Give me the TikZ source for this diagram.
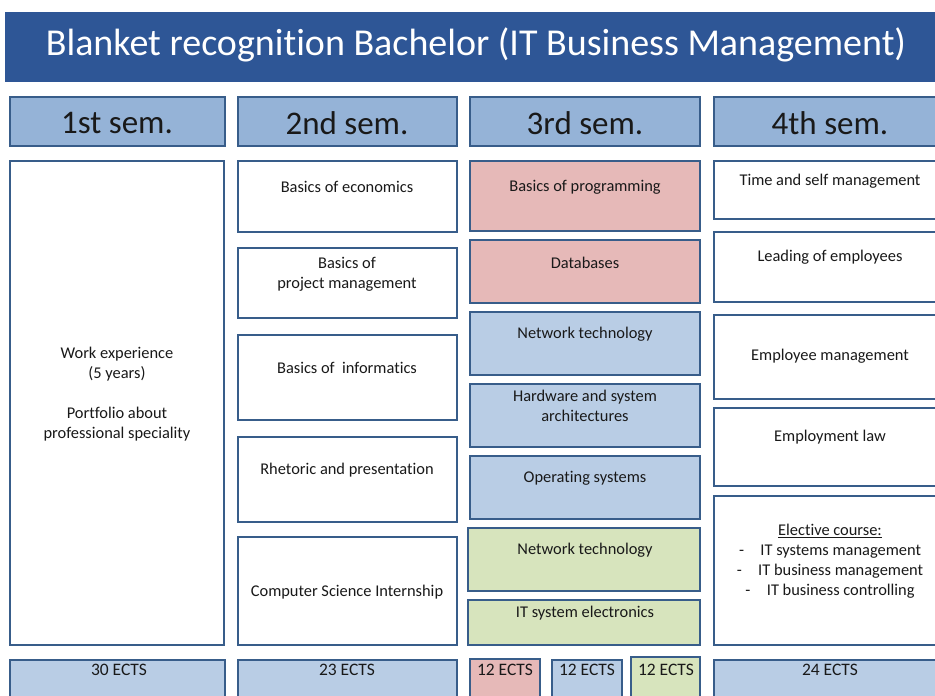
\documentclass[tikz,border=0pt]{standalone}
\usepackage{fontspec}
\setmainfont{Carlito}[Ligatures=NoCommon]
\usetikzlibrary{fit}
\definecolor{banner}{RGB}{46,86,150}
\definecolor{hdr}{RGB}{149,179,215}
\definecolor{edge}{RGB}{56,93,138}
\definecolor{redf}{RGB}{230,185,184}
\definecolor{bluef}{RGB}{185,205,229}
\definecolor{greenf}{RGB}{215,228,189}
\definecolor{ink}{RGB}{25,25,25}
\tikzset{
  box/.style={draw=edge, line width=1.8pt, inner sep=0pt, rectangle},
  txt/.style={text=ink, font=\fontsize{16.4}{20}\selectfont, align=center, inner sep=0pt},
  semtxt/.style={text=ink, font=\fontsize{33}{36}\selectfont, inner sep=0pt},
  ects/.style={text=ink, font=\fontsize{17.5}{20}\selectfont, inner sep=0pt},
}
\begin{document}
\begin{tikzpicture}[x=1pt,y=-1pt]
\clip (0,0) rectangle (935,696);
\useasboundingbox (0,0) rectangle (935,696);
\fill[white] (0,0) rectangle (935,696);
% title banner
\node[fill=banner, inner sep=0pt, fit={(5,12) (945,82)}] (title) {};
\node[text=white, font=\fontsize{38}{42}\selectfont, inner sep=0pt] (titletxt) at (476,45) {Blanket recognition Bachelor (IT Business Management)};
% semester headers
\node[box, fill=hdr, fit={(10,97) (225,146)}] (s1) {};
\node[box, fill=hdr, fit={(238,97) (457,146)}] (s2) {};
\node[box, fill=hdr, fit={(470,97) (700,146)}] (s3) {};
\node[box, fill=hdr, fit={(714,97) (945,146)}] (s4) {};
\node[semtxt] (s1t) at (117,123) {1st sem.};
\node[semtxt] (s2t) at (347,123) {2nd sem.};
\node[semtxt] (s3t) at (585,123) {3rd sem.};
\node[semtxt] (s4t) at (830,123) {4th sem.};
% column 1
\node[box, fill=white, fit={(10,161) (224,645)}] (c1) {};
\node[txt] (c1t) at (117,394) {Work experience\\(5 years)\\[20pt]Portfolio about\\professional speciality};
% column 2
\node[box, fill=white, fit={(238,161) (457,232)}] (c2a) {};
\node[txt] (c2at) at (347,187) {Basics of economics};
\node[box, fill=white, fit={(238,248) (457,318)}] (c2b) {};
\node[txt] (c2bt) at (347,274) {Basics of\\project management};
\node[box, fill=white, fit={(238,335) (457,420)}] (c2c) {};
\node[txt] (c2ct) at (347,368) {Basics of\ \ informatics};
\node[box, fill=white, fit={(238,437) (457,522)}] (c2d) {};
\node[txt] (c2dt) at (347,470) {Rhetoric and presentation};
\node[box, fill=white, fit={(238,537) (457,645)}] (c2e) {};
\node[txt] (c2et) at (347,592) {Computer Science Internship};
% column 3
\node[box, fill=redf, fit={(470,161) (700,231)}] (c3a) {};
\node[txt] (c3at) at (585,187) {Basics of programming};
\node[box, fill=redf, fit={(470,240) (700,303)}] (c3b) {};
\node[txt] (c3bt) at (585,263) {Databases};
\node[box, fill=bluef, fit={(470,312) (700,375)}] (c3c) {};
\node[txt] (c3ct) at (585,334) {Network technology};
\node[box, fill=bluef, fit={(470,384) (700,447)}] (c3d) {};
\node[txt] (c3dt) at (585,406) {Hardware and system\\architectures};
\node[box, fill=bluef, fit={(470,456) (700,519)}] (c3e) {};
\node[txt] (c3et) at (585,478) {Operating systems};
\node[box, fill=greenf, fit={(468,528) (700,591)}] (c3f) {};
\node[txt] (c3ft) at (585,550) {Network technology};
\node[box, fill=greenf, fit={(468,600) (700,645)}] (c3g) {};
\node[txt] (c3gt) at (585,613) {IT system electronics};
% column 4
\node[box, fill=white, fit={(714,161) (945,219)}] (c4a) {};
\node[txt] (c4at) at (830,181) {Time and self management};
\node[box, fill=white, fit={(714,232) (945,302)}] (c4b) {};
\node[txt] (c4bt) at (830,257) {Leading of employees};
\node[box, fill=white, fit={(714,315) (945,399)}] (c4c) {};
\node[txt] (c4ct) at (830,356) {Employee management};
\node[box, fill=white, fit={(714,408) (945,486)}] (c4d) {};
\node[txt] (c4dt) at (830,437) {Employment law};
\node[box, fill=white, fit={(714,496) (945,645)}] (c4e) {};
\node[txt] (c4et) at (830,561) {\underline{Elective course:}\\-\quad IT systems management\\-\quad IT business management\\-\quad IT business controlling};
% bottom ECTS row
\node[box, fill=bluef, fit={(10,660) (225,710)}] (e1) {};
\node[ects] (e1t) at (119,670) {30 ECTS};
\node[box, fill=bluef, fit={(238,660) (457,710)}] (e2) {};
\node[ects] (e2t) at (347,670) {23 ECTS};
\node[box, fill=redf, fit={(470,659) (540,710)}] (e3) {};
\node[ects] (e3t) at (505,670) {12 ECTS};
\node[box, fill=bluef, fit={(552,660) (622,710)}] (e4) {};
\node[ects] (e4t) at (587,670) {12 ECTS};
\node[box, fill=greenf, fit={(631,657) (700,710)}] (e5) {};
\node[ects] (e5t) at (666,670) {12 ECTS};
\node[box, fill=bluef, fit={(714,660) (945,710)}] (e6) {};
\node[ects] (e6t) at (830,670) {24 ECTS};
\end{tikzpicture}
\end{document}
